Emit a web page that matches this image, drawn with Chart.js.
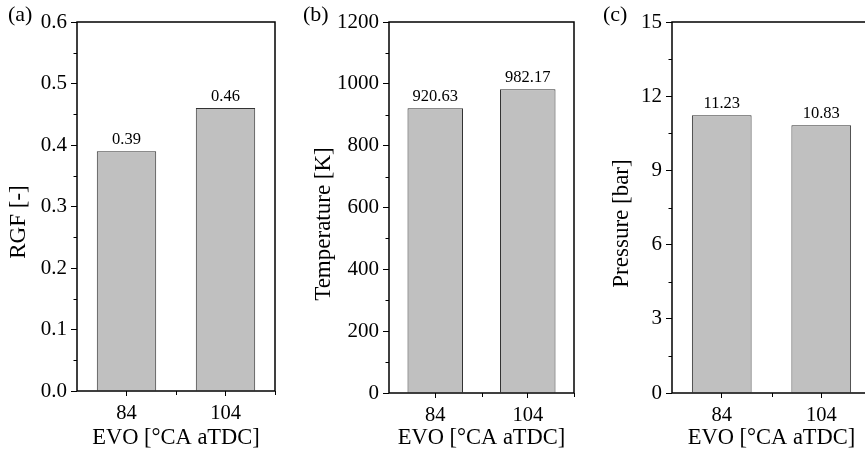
<!DOCTYPE html>
<html lang="en">
<head>
  <meta charset="UTF-8">
  <title>RGF, temperature and pressure at EVO</title>
  <script src="https://cdn.jsdelivr.net/npm/chart.js"></script>
  <style>
    html, body { margin: 0; padding: 0; background: #fff; overflow: hidden; }
    #wrap { position: relative; width: 865px; height: 453px; overflow: hidden; }
    #wrap canvas { position: absolute; left: 0; top: 0; }
  </style>
</head>
<body>
<div id="wrap">
  <canvas id="rgfChart" width="900" height="453"></canvas>
  <canvas id="tempChart" width="900" height="453"></canvas>
  <canvas id="pressChart" width="900" height="453"></canvas>
</div>

<script>
  const evoLabels = ['84', '104'];
  const rgfValues = [0.39, 0.46];
  const temperatureValues = [920.63, 982.17];
  const pressureValues = [11.23, 10.83];

  // y axes as [min, max, labelled step]
  const rgfAxis = [0, 0.6, 0.1];
  const temperatureAxis = [0, 1200, 200];
  const pressureAxis = [0, 15, 3];

  const SERIF = '"Liberation Serif", "Times New Roman", serif';
  const W = 900, H = 453;

  // frame, minor ticks, bar values, panel letter and rotated y title
  const panelDecor = {
    id: 'panelDecor',
    afterDraw(chart, args, opts) {
      const ctx = chart.ctx;
      const { left, right, top, bottom } = chart.chartArea;
      const xs = chart.scales.x, ys = chart.scales.y;
      ctx.save();
      ctx.strokeStyle = '#000';
      ctx.lineWidth = 1.5;
      ctx.strokeRect(left, top, right - left, bottom - top);

      ctx.lineWidth = 1;
      ctx.beginPath();
      const yt = ys.ticks;
      for (let i = 0; i < yt.length - 1; i++) {
        const py = Math.round(ys.getPixelForValue((yt[i].value + yt[i + 1].value) / 2)) + 0.5;
        ctx.moveTo(left, py);
        ctx.lineTo(left - 3.5, py);
      }
      for (let i = 0; i < xs.ticks.length; i++) {
        const px = Math.round(xs.getPixelForValue(i + 0.5)) + 0.5;
        ctx.moveTo(px, bottom);
        ctx.lineTo(px, bottom + 4);
      }
      ctx.stroke();

      ctx.fillStyle = '#000';
      ctx.font = '16.5px ' + SERIF;
      ctx.textAlign = 'center';
      ctx.textBaseline = 'alphabetic';
      const values = chart.data.datasets[0].data;
      chart.getDatasetMeta(0).data.forEach((bar, i) => {
        ctx.fillText(String(values[i]), bar.x, bar.y - 7);
      });

      ctx.font = '22px ' + SERIF;
      ctx.textAlign = 'left';
      ctx.textBaseline = 'middle';
      ctx.fillText(opts.letter, opts.letterX, 15.5);

      ctx.font = '23px ' + SERIF;
      ctx.translate(opts.titleX, opts.titleY);
      ctx.rotate(-Math.PI / 2);
      ctx.textAlign = 'center';
      ctx.fillText(opts.yTitle, 0, 0);
      ctx.restore();
    }
  };

  function makePanel(id, values, axis, decimals, box, decor) {
    const [yMin, yMax, yStep] = axis;
    return new Chart(document.getElementById(id), {
      type: 'bar',
      data: {
        labels: evoLabels,
        datasets: [{
          data: values,
          backgroundColor: '#c0c0c0',
          borderColor: '#333',
          borderWidth: 1,
          categoryPercentage: 0.6,
          barPercentage: 1
        }]
      },
      options: {
        responsive: false,
        animation: false,
        layout: { padding: { left: 0, top: box.top, right: W - box.right, bottom: 0 } },
        plugins: {
          legend: { display: false },
          tooltip: { enabled: false },
          panelDecor: decor
        },
        scales: {
          x: {
            offset: true,
            grid: { offset: false, drawOnChartArea: false, tickLength: 5, color: '#000', lineWidth: 1 },
            border: { display: false },
            ticks: { color: '#000', padding: 5, font: { family: SERIF, size: 20.5 } },
            title: {
              display: true,
              text: 'EVO [°CA aTDC]',
              color: '#000',
              padding: { top: 0, bottom: 1 },
              font: { family: SERIF, size: 22.5 }
            },
            afterFit(scale) { scale.height = H - box.bottom; }
          },
          y: {
            min: yMin,
            max: yMax,
            grid: { drawOnChartArea: false, tickLength: 6, color: '#000', lineWidth: 1 },
            border: { display: false },
            ticks: {
              stepSize: yStep,
              color: '#000',
              padding: 4,
              font: { family: SERIF, size: 21 },
              callback: v => Number(v).toFixed(decimals)
            },
            afterFit(scale) { scale.width = box.left; }
          }
        }
      },
      plugins: [panelDecor]
    });
  }

  makePanel('rgfChart', rgfValues, rgfAxis, 1,
    { left: 77, right: 275, top: 22, bottom: 391 },
    { letter: '(a)', letterX: 8, yTitle: 'RGF [-]', titleX: 19, titleY: 222 });

  makePanel('tempChart', temperatureValues, temperatureAxis, 0,
    { left: 389, right: 574, top: 22, bottom: 393 },
    { letter: '(b)', letterX: 303, yTitle: 'Temperature [K]', titleX: 323.5, titleY: 224 });

  makePanel('pressChart', pressureValues, pressureAxis, 0,
    { left: 672, right: 871, top: 22, bottom: 393 },
    { letter: '(c)', letterX: 603, yTitle: 'Pressure [bar]', titleX: 622, titleY: 223.5 });
</script>
</body>
</html>
